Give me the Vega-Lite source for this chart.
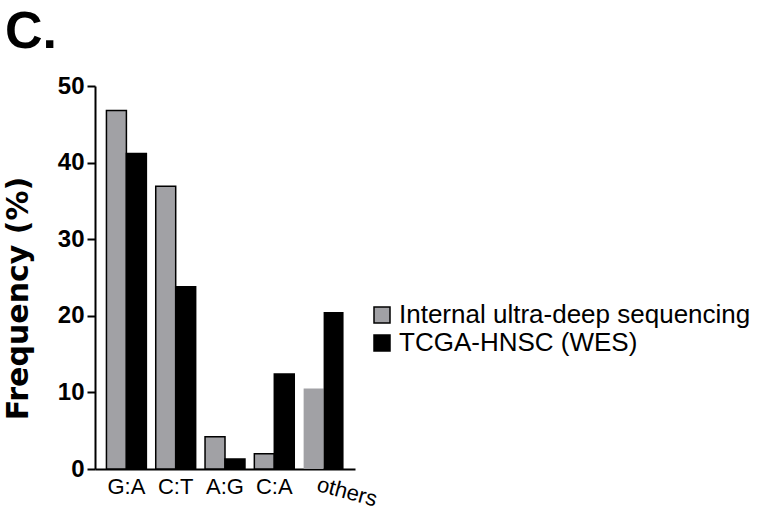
{
  "$schema": "https://vega.github.io/schema/vega-lite/v6.json",
  "width": 260,
  "height": 383,
  "autosize": {"type": "none"},
  "padding": {"left": 95, "top": 86, "right": 404, "bottom": 45},
  "background": "white",
  "config": {
    "view": {"stroke": null},
    "font": "Liberation Sans",
    "axis": {"grid": false, "domainColor": "black", "domainWidth": 2, "tickColor": "black", "labelColor": "black", "titleColor": "black", "labelFont": "Liberation Sans", "titleFont": "Liberation Sans"}
  },
  "title": {
    "text": "C.",
    "anchor": "start",
    "frame": "group",
    "font": "Liberation Sans",
    "fontSize": 52,
    "fontWeight": "bold",
    "color": "black",
    "dx": -90,
    "dy": -15,
    "offset": 0
  },
  "data": {
    "values": [
      {"mutation": "G:A", "source": "Internal ultra-deep sequencing", "frequency": 46.8},
      {"mutation": "G:A", "source": "TCGA-HNSC (WES)", "frequency": 41.2},
      {"mutation": "C:T", "source": "Internal ultra-deep sequencing", "frequency": 36.9},
      {"mutation": "C:T", "source": "TCGA-HNSC (WES)", "frequency": 23.8},
      {"mutation": "A:G", "source": "Internal ultra-deep sequencing", "frequency": 4.2},
      {"mutation": "A:G", "source": "TCGA-HNSC (WES)", "frequency": 1.3},
      {"mutation": "C:A", "source": "Internal ultra-deep sequencing", "frequency": 2.0},
      {"mutation": "C:A", "source": "TCGA-HNSC (WES)", "frequency": 12.4},
      {"mutation": "others", "source": "Internal ultra-deep sequencing", "frequency": 10.5},
      {"mutation": "others", "source": "TCGA-HNSC (WES)", "frequency": 20.5}
    ]
  },
  "encoding": {
    "x": {
      "field": "mutation",
      "type": "nominal",
      "sort": ["G:A", "C:T", "A:G", "C:A", "others"],
      "scale": {"paddingInner": 0.19, "paddingOuter": 0.232},
      "axis": {"title": null, "ticks": false, "labels": false}
    }
  },
  "layer": [
    {
      "mark": {"type": "bar", "stroke": "black", "strokeWidth": 1.5},
      "encoding": {
        "xOffset": {
          "field": "source",
          "sort": ["Internal ultra-deep sequencing", "TCGA-HNSC (WES)"],
          "scale": {"paddingInner": 0, "paddingOuter": 0}
        },
        "y": {
          "field": "frequency",
          "type": "quantitative",
          "scale": {"domain": [0, 50]},
          "axis": {
            "title": "Frequency (%)",
            "titleFont": "DejaVu Sans",
            "titleFontSize": 30,
            "titleFontWeight": "bold",
            "titleY": 212,
            "titleX": -62,
            "titleAlign": "center",
            "values": [0, 10, 20, 30, 40, 50],
            "tickSize": 8,
            "tickWidth": 2,
            "labelFontSize": 24,
            "labelFontWeight": "bold",
            "labelPadding": 3
          }
        },
        "color": {
          "field": "source",
          "type": "nominal",
          "scale": {"domain": ["Internal ultra-deep sequencing", "TCGA-HNSC (WES)"], "range": ["#a1a1a5", "#000000"]},
          "legend": {
            "title": null,
            "orient": "none",
            "legendX": 274,
            "legendY": 216,
            "padding": 0,
            "symbolType": "square",
            "symbolSize": 256,
            "symbolStrokeColor": "black",
            "symbolStrokeWidth": 1.5,
            "labelFontSize": 26,
            "labelColor": "black",
            "labelFont": "Liberation Sans",
            "labelOffset": 4,
            "rowPadding": 2,
            "labelLimit": 500
          }
        },
        "strokeOpacity": {
          "condition": {"test": "datum.mutation === 'others'", "value": 0},
          "value": 1
        }
      }
    },
    {
      "transform": [{"filter": "datum.source === 'TCGA-HNSC (WES)' && datum.mutation !== 'others'"}],
      "mark": {"type": "text", "font": "Liberation Sans", "fontSize": 22, "color": "black", "baseline": "top", "align": "center", "dy": 8},
      "encoding": {
        "text": {"field": "mutation"},
        "y": {"datum": 0}
      }
    },
    {
      "transform": [{"filter": "datum.source === 'TCGA-HNSC (WES)' && datum.mutation === 'others'"}],
      "mark": {"type": "text", "font": "Liberation Sans", "fontSize": 22, "color": "black", "baseline": "top", "align": "left", "angle": 15, "dx": -2, "dy": 6},
      "encoding": {
        "text": {"field": "mutation"},
        "y": {"datum": 0}
      }
    }
  ]
}
